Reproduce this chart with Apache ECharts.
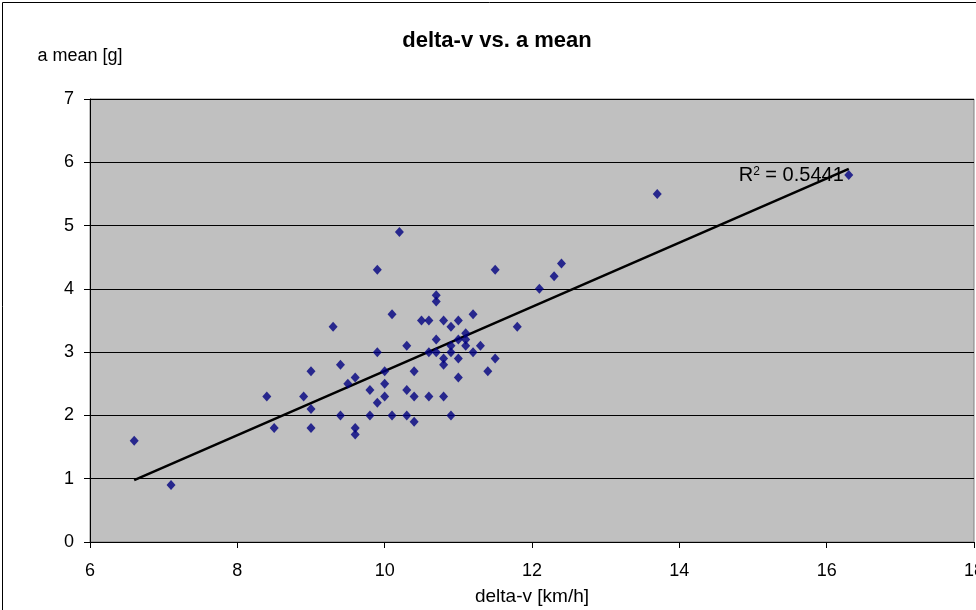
<!DOCTYPE html>
<html>
<head>
<meta charset="utf-8">
<script src="https://cdn.jsdelivr.net/npm/echarts@6/dist/echarts.min.js"></script>
<style>
html,body{margin:0;padding:0;background:#fff;}
#chart{width:976px;height:610px;}
</style>
</head>
<body>
<div id="chart"></div>
<script>
// delta-v [km/h]
const deltaV = [6.6,7.1,8.4,8.5,8.9,9.0,9.0,9.0,9.3,9.4,9.4,9.5,9.6,9.6,9.6,9.8,9.8,9.9,9.9,9.9,
  10.0,10.0,10.0,10.1,10.1,10.2,10.3,10.3,10.3,10.4,10.4,10.4,10.5,10.6,10.6,10.6,10.7,10.7,10.7,10.7,
  10.8,10.8,10.8,10.8,10.9,10.9,10.9,10.9,11.0,11.0,11.0,11.0,11.1,11.1,11.1,11.2,11.2,11.3,11.4,11.5,
  11.5,11.8,12.1,12.3,12.4,13.7,16.3];
// a mean [g]
const aMean = [1.6,0.9,2.3,1.8,2.3,2.7,2.1,1.8,3.4,2.8,2.0,2.5,2.6,1.8,1.7,2.4,2.0,3.0,4.3,2.2,
  2.7,2.5,2.3,3.6,2.0,4.9,3.1,2.4,2.0,2.3,1.9,2.7,3.5,3.5,3.0,2.3,3.2,3.0,3.9,3.8,
  3.5,2.9,2.8,2.3,3.4,3.1,3.0,2.0,3.5,3.2,2.9,2.6,3.3,3.2,3.1,3.6,3.0,3.1,2.7,4.3,
  2.9,3.4,4.0,4.2,4.4,5.5,5.8];
const xTicks = [6, 8, 10, 12, 14, 16, 18];
const yTicks = [0, 1, 2, 3, 4, 5, 6, 7];
const rSquaredText = '0.5441';

const points = deltaV.map((x, i) => [x, aMean[i]]);

// least-squares trend line computed from the data
const n = deltaV.length;
const mx = deltaV.reduce((a, b) => a + b, 0) / n;
const my = aMean.reduce((a, b) => a + b, 0) / n;
let sxy = 0, sxx = 0;
for (let i = 0; i < n; i++) { sxy += (deltaV[i] - mx) * (aMean[i] - my); sxx += (deltaV[i] - mx) ** 2; }
const slope = sxy / sxx, intercept = my - slope * mx;
const xMin = Math.min(...deltaV), xMax = Math.max(...deltaV);
const trend = [[xMin, intercept + slope * xMin], [xMax, intercept + slope * xMax]];

const font = '"Liberation Sans", Arial, sans-serif';
const chart = echarts.init(document.getElementById('chart'), null, {renderer: 'canvas'});
chart.setOption({
  animation: false,
  backgroundColor: '#fff',
  title: {
    text: 'delta-v vs. a mean',
    left: 492, top: 25, textAlign: 'center',
    textStyle: {fontFamily: font, fontWeight: 'bold', fontSize: 22, color: '#000'}
  },
  graphic: [{
    type: 'rect', shape: {x: 2.5, y: 2.5, width: 980, height: 620},
    style: {fill: null, stroke: '#000', lineWidth: 1}, silent: true, z: 100
  }],
  grid: {
    left: 90, right: 2, top: 99, bottom: 68,
    outerBoundsMode: 'none', containLabel: false,
    show: true, backgroundColor: '#C0C0C0', borderColor: '#808080', borderWidth: 1
  },
  xAxis: {
    type: 'value', min: xTicks[0], max: xTicks[xTicks.length - 1], interval: 2,
    name: 'delta-v [km/h]', nameLocation: 'middle', nameGap: 45,
    nameTextStyle: {fontFamily: font, fontSize: 19, color: '#000'},
    axisLine: {show: true, onZero: false, lineStyle: {color: '#000', width: 1}},
    axisTick: {show: true, inside: false, length: 6, lineStyle: {color: '#000'}},
    axisLabel: {margin: 20, fontFamily: font, fontSize: 18, color: '#000', hideOverlap: false},
    splitLine: {show: false}
  },
  yAxis: {
    type: 'value', min: yTicks[0], max: yTicks[yTicks.length - 1], interval: 1,
    name: 'a mean [g]', nameLocation: 'end', nameGap: 34,
    nameTextStyle: {fontFamily: font, fontSize: 18, color: '#000', align: 'center', padding: [0, 20, 0, 0]},
    axisLine: {show: true, onZero: false, lineStyle: {color: '#000', width: 1}},
    axisTick: {show: true, inside: false, length: 6, lineStyle: {color: '#000'}},
    axisLabel: {margin: 16, fontFamily: font, fontSize: 18, color: '#000'},
    splitLine: {show: true, lineStyle: {color: '#000', width: 1}}
  },
  series: [{
    type: 'scatter',
    data: points,
    symbol: 'diamond',
    symbolSize: [9, 10],
    itemStyle: {color: '#000080'},
    z: 3
  }, {
    type: 'line',
    data: trend.map((p, i) => i === trend.length - 1 ? {
      value: p,
      label: {
        show: true, position: 'left', distance: 5, offset: [0, 7],
        formatter: '{b|R}{s|2}{b| = ' + rSquaredText + '}',
        rich: {
          b: {fontFamily: font, fontSize: 20, color: '#000'},
          s: {fontFamily: font, fontSize: 12, color: '#000', verticalAlign: 'top', padding: [0, 0, 9, 0]}
        }
      }
    } : p),
    showSymbol: true,
    symbol: 'circle',
    symbolSize: 0,
    lineStyle: {color: '#000', width: 2.5},
    z: 2,
    silent: true
  }]
});
</script>
</body>
</html>
